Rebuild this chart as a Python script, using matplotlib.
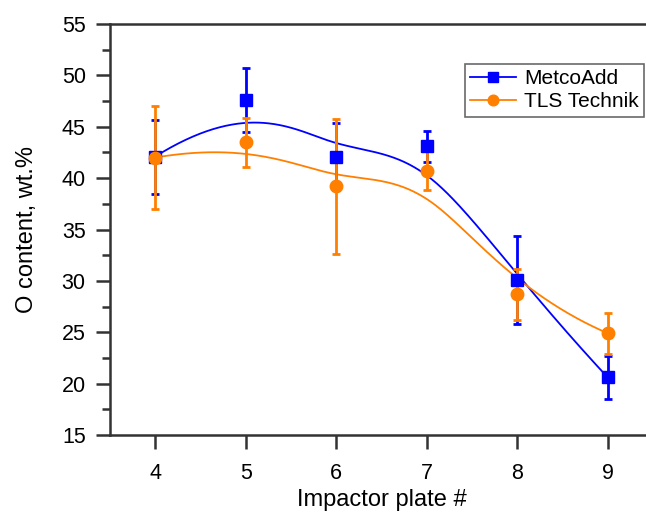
import numpy as np
import matplotlib
matplotlib.use("Agg")
import matplotlib.pyplot as plt

plt.rcParams['font.family'] = ['Liberation Sans', 'DejaVu Sans']

plates = [4, 5, 6, 7, 8, 9]
metco = [42.1, 47.6, 42.1, 43.1, 30.1, 20.6]
metco_err = [3.6, 3.1, 3.3, 1.5, 4.3, 2.1]
tls = [42.0, 43.5, 39.2, 40.7, 28.7, 24.9]
tls_err = [5.0, 2.4, 6.6, 1.9, 2.5, 2.0]

BLUE = '#0000FF'
ORANGE = '#FF8000'


def bspline(xs, ys, n=400, k=3):
    P = np.column_stack([xs, ys]).astype(float)
    m = len(P)
    knots = np.concatenate([np.zeros(k), np.arange(m - k + 1), np.full(k, m - k)]).astype(float)
    ts = np.linspace(0, m - k, n)
    ts[-1] -= 1e-9
    out = []
    for t in ts:
        N = np.array([1.0 if knots[i] <= t < knots[i + 1] else 0.0 for i in range(len(knots) - 1)])
        for d in range(1, k + 1):
            Nn = np.zeros(len(knots) - 1 - d)
            for i in range(len(Nn)):
                a = 0.0
                den = knots[i + d] - knots[i]
                if den > 0:
                    a += (t - knots[i]) / den * N[i]
                den2 = knots[i + d + 1] - knots[i + 1]
                if den2 > 0:
                    a += (knots[i + d + 1] - t) / den2 * N[i + 1]
                Nn[i] = a
            N = Nn
        out.append(N @ P)
    out = np.array(out)
    return out[:, 0], out[:, 1]


fig = plt.figure(figsize=(6.46, 5.14), dpi=100)
W, H = 646, 514
ax = fig.add_axes([110 / W, 1 - 435 / H, (653 - 110) / W, (435 - 24) / H])

for vals, errs, col, mk, ms, lab in [
    (metco, metco_err, BLUE, 's', 8, 'MetcoAdd'),
    (tls, tls_err, ORANGE, 'o', 9, 'TLS Technik'),
]:
    cx, cy = bspline(plates, vals)
    ax.plot(cx, cy, color=col, lw=1.3, zorder=2)
    ax.errorbar(plates, vals, yerr=errs, fmt='none', ecolor=col, elinewidth=2,
                capsize=3, capthick=2, zorder=3)
    ax.plot(plates, vals, linestyle='none', marker=mk, ms=ms, color=col, zorder=4)
    ax.plot([], [], color=col, lw=1.3, marker=mk, ms=ms * 0.85, label=lab)

ax.set_xlim(3.5, 9.5)
ax.set_ylim(15, 55)
ax.set_xticks(plates)
ax.set_yticks(np.arange(15, 56, 5))
ax.set_yticks(np.arange(17.5, 55, 5), minor=True)
for s in ax.spines.values():
    s.set_linewidth(1.8)
    s.set_color('#333333')
ax.tick_params(axis='both', which='major', direction='out', length=10, width=1.8,
               color='#333333', labelsize=15.5)
ax.tick_params(axis='y', which='major', pad=7.5)
ax.tick_params(axis='y', which='minor', direction='out', length=6, width=1.8, color='#333333')
ax.tick_params(axis='x', pad=10)

ax.set_xlabel('Impactor plate #', fontsize=17, labelpad=4)
ax.set_ylabel('O content, wt.%', fontsize=17, labelpad=17)

leg = ax.legend(loc='upper right', bbox_to_anchor=(644 / W, 1 - 64 / H),
                bbox_transform=fig.transFigure, fontsize=15, frameon=True,
                fancybox=False, borderpad=0.25, handlelength=2.2, handletextpad=0.4,
                labelspacing=0.2, borderaxespad=0)
leg.get_frame().set_edgecolor('#444444')
leg.get_frame().set_linewidth(1.2)

fig.savefig('out.png', dpi=100)
